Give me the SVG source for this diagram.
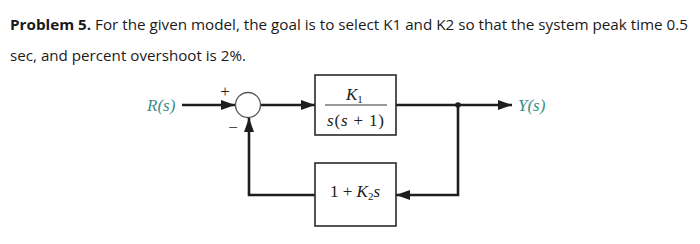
<svg xmlns="http://www.w3.org/2000/svg" width="700" height="244" viewBox="0 0 700 244">
<defs>
<style>
.title{font-family:"Open Sans","Liberation Sans",sans-serif;font-size:15px;fill:#1a1a1a}
.math{font-family:"Liberation Serif","Times New Roman",serif;font-size:17px;fill:#222}
.it{font-style:italic}
.sig{font-family:"Liberation Serif","Times New Roman",serif;font-size:17px;font-style:italic;fill:#3b8e8a}
.box{fill:#fff;stroke:#2a2a2a;stroke-width:1.6}
.wire{fill:none;stroke:#1e1e1e;stroke-width:2.6}
</style>
<marker id="ah" viewBox="0 0 14 10" refX="14" refY="5" markerWidth="14" markerHeight="10" markerUnits="userSpaceOnUse" orient="auto">
<path d="M0,0 L14,5 L0,10 z" fill="#1e1e1e"/>
</marker>
</defs>
<rect width="700" height="244" fill="#fff"/>
<g id="title">
<text class="title" x="10" y="30" textLength="678" lengthAdjust="spacingAndGlyphs"><tspan font-weight="bold">Problem 5.</tspan> For the given model, the goal is to select K1 and K2 so that the system peak time 0.5</text>
<text class="title" x="10" y="61" textLength="236" lengthAdjust="spacingAndGlyphs">sec, and percent overshoot is 2%.</text>
</g>
<g id="connectors">
<line class="wire" x1="182" y1="105" x2="235" y2="105" marker-end="url(#ah)"/>
<line class="wire" x1="260" y1="105" x2="315" y2="105" marker-end="url(#ah)"/>
<line class="wire" x1="396" y1="105" x2="512" y2="105" marker-end="url(#ah)"/>
<polyline class="wire" points="458,105 458,195 396,195" marker-end="url(#ah)"/>
<polyline class="wire" points="316,195 249,195 249,118" marker-end="url(#ah)"/>
<circle cx="458" cy="105" r="2.8" fill="#1e1e1e"/>
</g>
<g id="R">
<text class="sig" x="147" y="111">R(s)</text>
</g>
<g id="sum">
<circle cx="248" cy="105" r="12.5" fill="#fff" stroke="#555" stroke-width="1.3"/>
<text class="math" x="225" y="97" text-anchor="middle" font-size="14">+</text>
<text class="math" x="233" y="133" text-anchor="middle" font-size="14">−</text>
</g>
<g id="G1">
<rect class="box" x="315" y="75" width="81" height="60"/>
<text class="math it" x="346" y="100">K<tspan font-size="11" dy="3" font-style="normal">1</tspan></text>
<line x1="325" y1="105" x2="387" y2="105" stroke="#333" stroke-width="1"/>
<text class="math" x="327" y="126" textLength="57" lengthAdjust="spacing"><tspan font-style="italic">s</tspan>(<tspan font-style="italic">s</tspan> + 1)</text>
</g>
<g id="H">
<rect class="box" x="315" y="163" width="81" height="63"/>
<text class="math" x="330" y="197">1 + <tspan font-style="italic">K</tspan><tspan font-size="11" dy="3">2</tspan><tspan dy="-3" font-style="italic">s</tspan></text>
</g>
<g id="Y">
<text class="sig" x="518" y="111">Y(s)</text>
</g>
</svg>
